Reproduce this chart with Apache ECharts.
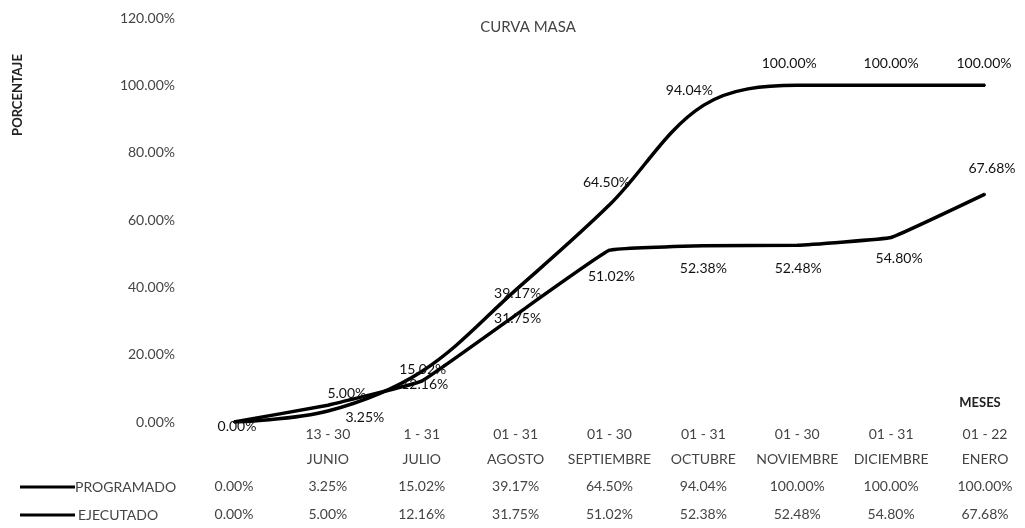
<!DOCTYPE html>
<html>
<head>
<meta charset="utf-8">
<script src="https://cdn.jsdelivr.net/npm/echarts@6/dist/echarts.min.js"></script>
<style>html,body{margin:0;padding:0;background:#fff;}#c{width:1025px;height:528px;}</style>
</head>
<body>
<div id="c"></div>
<script>
const categories = ['', '13 - 30\nJUNIO', '1 - 31\nJULIO', '01 - 31\nAGOSTO', '01 - 30\nSEPTIEMBRE', '01 - 31\nOCTUBRE', '01 - 30\nNOVIEMBRE', '01 - 31\nDICIEMBRE', '01 - 22\nENERO'];
const programado = [0.00, 3.25, 15.02, 39.17, 64.50, 94.04, 100.00, 100.00, 100.00];
const ejecutado = [0.00, 5.00, 12.16, 31.75, 51.02, 52.38, 52.48, 54.80, 67.68];
const yTicks = [0, 20, 40, 60, 80, 100, 120];

const fmt = v => v.toFixed(2) + '%';
const progOff = [[3,4],[37,6],[1,-2],[2,3],[-3,-22],[-14,-15],[-8,-22],[0,-22],[-1,-22]];
const ejecOff = [null,[19,-12],[3,3],[2,3],[2,26],[0,23],[1,23],[8,21],[7,-26]];

const labelFont = {fontFamily: 'Lato', fontSize: 14, color: '#111'};
function buildData(vals, offs) {
  return vals.map((v, i) => ({
    value: v,
    label: offs[i] ? {show: true, position: 'inside', offset: offs[i], formatter: fmt(v), ...labelFont} : {show: false}
  }));
}

const chart = echarts.init(document.getElementById('c'));
const axisCommon = {
  type: 'category', gridIndex: 0, position: 'bottom', boundaryGap: false,
  axisLine: {show: false}, axisTick: {show: false}, splitLine: {show: false}
};
chart.setOption({
  animation: false,
  title: {text: 'CURVA MASA', left: 523, top: 15, textAlign: 'center',
    textStyle: {fontFamily: 'Lato', fontSize: 15, fontWeight: 'normal', color: '#444'}},
  grid: {left: 234, right: 40, top: 18, bottom: 106},
  xAxis: [
    {...axisCommon, data: categories,
      axisLabel: {fontFamily: 'Lato', fontSize: 14, color: '#444', lineHeight: 25, margin: 0, interval: 0}},
    {...axisCommon, data: programado.map(fmt),
      axisLabel: {fontFamily: 'Lato', fontSize: 14, color: '#444', lineHeight: 16, margin: 8, interval: 0}, offset: 48},
    {...axisCommon, data: ejecutado.map(fmt),
      axisLabel: {fontFamily: 'Lato', fontSize: 14, color: '#444', lineHeight: 16, margin: 8, interval: 0}, offset: 76}
  ],
  yAxis: {
    type: 'value', min: 0, max: 120, interval: 20,
    axisLine: {show: false}, axisTick: {show: false}, splitLine: {show: false},
    axisLabel: {fontFamily: 'Lato', fontSize: 14, color: '#444', margin: 59,
      formatter: v => yTicks.includes(v) ? fmt(v) : ''}
  },
  series: [
    {name: 'PROGRAMADO', type: 'line', xAxisIndex: 0, smooth: 0.35, data: buildData(programado, progOff),
      symbol: 'circle', symbolSize: 2, itemStyle: {color: '#000'},
      lineStyle: {color: '#000', width: 3.5}},
    {name: 'EJECUTADO', type: 'line', xAxisIndex: 0, smooth: 0.07, data: buildData(ejecutado, ejecOff),
      symbol: 'circle', symbolSize: 2, itemStyle: {color: '#000'},
      lineStyle: {color: '#000', width: 3.5}}
  ],
  graphic: [
    {type: 'text', x: 18, y: 95, rotation: Math.PI / 2, style: {text: 'PORCENTAJE', fontFamily: 'Lato', fontWeight: 'bold', fontSize: 13, fill: '#222', align: 'center', verticalAlign: 'middle'}},
    {type: 'text', x: 980, y: 403, style: {text: 'MESES', fontFamily: 'Lato', fontWeight: 'bold', fontSize: 13, fill: '#222', align: 'center', verticalAlign: 'middle'}},
    {type: 'line', shape: {x1: 20, y1: 487, x2: 75, y2: 487}, style: {stroke: '#000', lineWidth: 3}},
    {type: 'text', x: 75, y: 487, style: {text: 'PROGRAMADO', fontFamily: 'Lato', fontSize: 14, fill: '#444', align: 'left', verticalAlign: 'middle'}},
    {type: 'line', shape: {x1: 20, y1: 515, x2: 75, y2: 515}, style: {stroke: '#000', lineWidth: 3}},
    {type: 'text', x: 78, y: 515, style: {text: 'EJECUTADO', fontFamily: 'Lato', fontSize: 14, fill: '#444', align: 'left', verticalAlign: 'middle'}}
  ]
});
</script>
</body>
</html>
